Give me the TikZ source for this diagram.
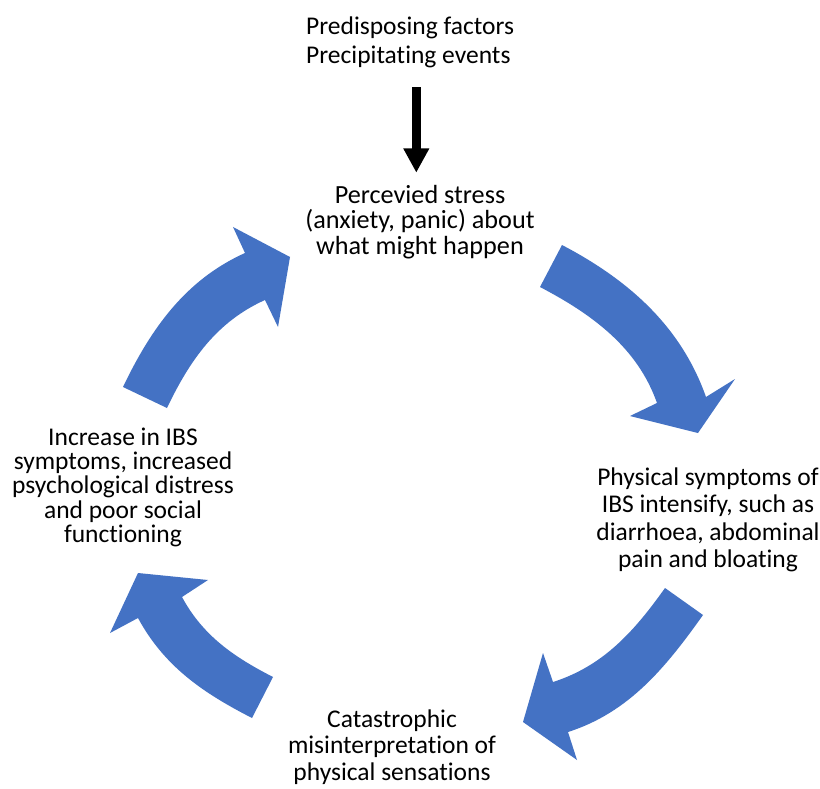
\documentclass[tikz,border=0pt]{standalone}
\usepackage{fontspec}
\setmainfont{Carlito}[Ligatures=CommonOff]
\usetikzlibrary{arrows.meta}
\definecolor{cycleblue}{RGB}{68,114,196}
\begin{document}
\begin{tikzpicture}[x=1pt,y=-1pt,
  lbl/.style={inner sep=0pt, font=\fontsize{25.5}{#1}\selectfont, text=black},
  cyc/.style={fill=cycleblue, draw=none}]
\useasboundingbox (0,0) rectangle (820,789);
\fill[white] (0,0) rectangle (820,789);

% texts (anchor base = baseline of the last line)
\node[lbl=29, anchor=base west, align=left] (head) at (306,63.3)
  {Predisposing factors\\Precipitating events};
\node[lbl=25.5, anchor=base, align=center, font=\fontsize{26.2}{25.5}\selectfont] (stress) at (420,254.3)
  {Percevied stress\\(anxiety, panic) about\\what might happen};
\node[lbl=27.3, anchor=base, align=center] (phys) at (708,567.3)
  {Physical symptoms of\\IBS intensify, such as\\diarrhoea, abdominal\\pain and bloating};
\node[lbl=26.5, anchor=base, align=center] (cata) at (392,780)
  {Catastrophic\\misinterpretation of\\physical sensations};
\node[lbl=24.4, anchor=base, align=center] (incr) at (123,542.6)
  {Increase in IBS\\symptoms, increased\\psychological distress\\and poor social\\functioning};

% black arrow
\coordinate (bs) at (416.3,87.3);
\coordinate (be) at (416.3,172.7);
\draw[line width=9.3pt, -{Triangle[width=24.4pt,length=24.4pt]}] (bs) -- (be);

% cycle arrows
\fill[cyc] (562,245) .. controls (628.5,279.8) and (681.1,326.3) .. (706,397)
  -- (735,379) -- (698,433) -- (630,416) -- (657,403)
  .. controls (637.4,347.4) and (592.3,314.4) .. (540,287) -- cycle;
\fill[cyc] (703,615) .. controls (665.9,667.2) and (629,712.6) .. (568,732)
  -- (577,760) -- (523,722) -- (543,653) -- (553,682)
  .. controls (603.5,665.9) and (634.3,631.2) .. (665,588) -- cycle;
\fill[cyc] (252,718) .. controls (203,692.9) and (164.2,666.4) .. (138,618)
  -- (110,633) -- (138,573) -- (208,580) -- (182,597)
  .. controls (202.9,635.7) and (233.8,656.9) .. (273,677) -- cycle;
\fill[cyc] (123,387) .. controls (151,328.4) and (185.7,279.7) .. (245,253)
  -- (233,227) -- (290,257) -- (278,327) -- (265,300)
  .. controls (216.7,321.7) and (189.8,360.2) .. (167,408) -- cycle;
\end{tikzpicture}
\end{document}
